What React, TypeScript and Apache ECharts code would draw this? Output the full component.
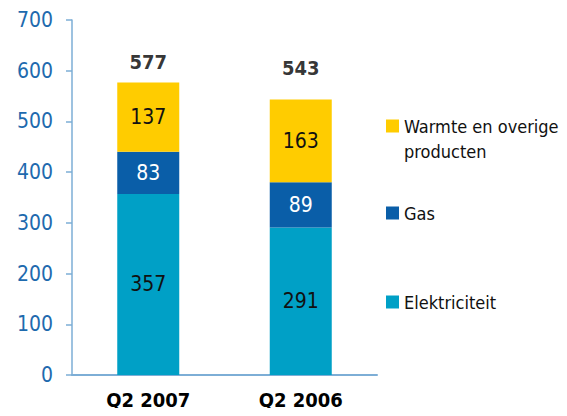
import React, { useEffect, useRef } from "react";
import * as echarts from "echarts";

const categories = ["Q2 2007", "Q2 2006"];
const elektriciteit = [357, 291];
const gas = [83, 89];
const warmte = [137, 163];
const totals = [577, 543];
const yTicks = [0, 100, 200, 300, 400, 500, 600, 700];

const FONT = "'DejaVu Sans Condensed', 'DejaVu Sans', sans-serif";
const totalLabelGap = [10, 22];

export default function App() {
  const ref = useRef<HTMLDivElement>(null);
  useEffect(() => {
    if (!ref.current) return;
    const chart = echarts.init(ref.current, undefined, { renderer: "svg" });
    const innerLabel = (color: string) => ({
      show: true,
      position: "inside" as const,
      color,
      fontSize: 21,
      fontFamily: FONT,
    });
    chart.setOption({
      animation: false,
      textStyle: { fontFamily: FONT },
      grid: { left: 72, right: 190, top: 20, bottom: 41, containLabel: false },
      xAxis: {
        type: "category",
        data: categories,
        axisLine: { show: true, lineStyle: { color: "#7DAED6", width: 2 } },
        axisTick: { show: false },
        axisLabel: {
          color: "#000",
          fontWeight: "bold",
          fontSize: 20,
          fontFamily: FONT,
          margin: 15,
        },
      },
      yAxis: {
        type: "value",
        min: yTicks[0],
        max: yTicks[yTicks.length - 1],
        interval: 100,
        splitLine: { show: false },
        axisLine: { show: true, lineStyle: { color: "#7DAED6", width: 1.5 } },
        axisTick: { show: true, length: 6, lineStyle: { color: "#7DAED6", width: 1.5 } },
        axisLabel: {
          color: "#1E6AAE",
          fontSize: 21,
          fontFamily: FONT,
          margin: 19,
        },
      },
      legend: [
        {
          data: ["Warmte en overige producten"],
          left: 386,
          top: 88.5,
          padding: 0,
          itemWidth: 13,
          itemHeight: 13,
          icon: "rect",
          formatter: () => "\nWarmte en overige\nproducten",
          textStyle: {
            color: "#111",
            fontSize: 18,
            fontFamily: FONT,
            lineHeight: 25,
          },
        },
        {
          data: ["Gas"],
          left: 386,
          top: 204,
          padding: 0,
          itemWidth: 13,
          itemHeight: 13,
          icon: "rect",
          textStyle: { color: "#111", fontSize: 18, fontFamily: FONT },
        },
        {
          data: ["Elektriciteit"],
          left: 386,
          top: 293,
          padding: 0,
          itemWidth: 13,
          itemHeight: 13,
          icon: "rect",
          textStyle: { color: "#111", fontSize: 18, fontFamily: FONT },
        },
      ],
      series: [
        {
          name: "Elektriciteit",
          type: "bar",
          stack: "total",
          barWidth: 62,
          data: elektriciteit,
          itemStyle: { color: "#00A0C6" },
          label: innerLabel("#111"),
        },
        {
          name: "Gas",
          type: "bar",
          stack: "total",
          barWidth: 62,
          data: gas,
          itemStyle: { color: "#0A5EA8" },
          label: innerLabel("#ffffff"),
        },
        {
          name: "Warmte en overige producten",
          type: "bar",
          stack: "total",
          barWidth: 62,
          data: warmte,
          itemStyle: { color: "#FFCC00" },
          label: innerLabel("#111"),
        },
        {
          name: "Totaal",
          type: "scatter",
          symbolSize: 0,
          silent: true,
          data: totals.map((v, i) => ({
            value: v,
            label: { distance: totalLabelGap[i] },
          })),
          label: {
            show: true,
            position: "top",
            color: "#000",
            fontWeight: "bold",
            fontSize: 20,
            fontFamily: FONT,
          },
        },
      ],
    });
    return () => chart.dispose();
  }, []);
  return <div ref={ref} style={{ width: 567, height: 416, margin: -8 }} />;
}
